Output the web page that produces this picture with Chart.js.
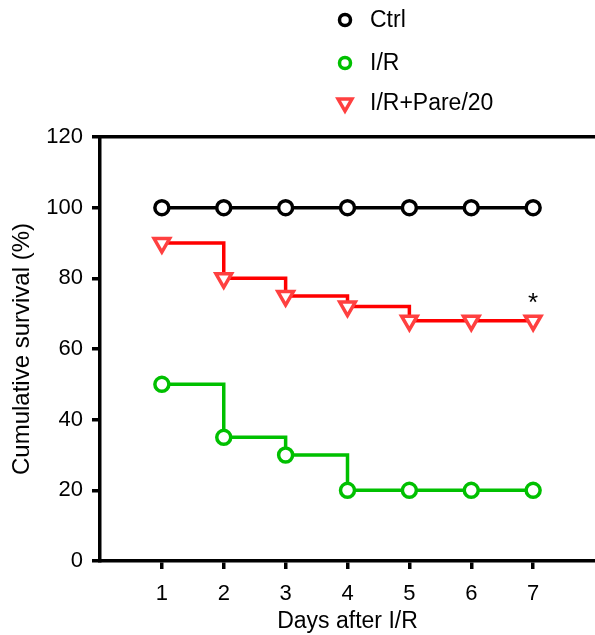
<!DOCTYPE html>
<html>
<head>
<meta charset="utf-8">
<script src="https://cdn.jsdelivr.net/npm/chart.js@4/dist/chart.umd.min.js"></script>
<style>
  html, body { margin: 0; padding: 0; background: #fff; }
  #wrap { width: 595px; height: 635px; position: relative; }
</style>
</head>
<body>
<div id="wrap"><canvas id="chart"></canvas></div>
<script>
const days = [1, 2, 3, 4, 5, 6, 7];
const ctrl = [100, 100, 100, 100, 100, 100, 100];
const ir = [50, 35, 30, 20, 20, 20, 20];
const irPare = [90, 80, 75, 72, 68, 68, 68];
const yTicks = [0, 20, 40, 60, 80, 100, 120];
const seriesNames = ['Ctrl', 'I/R', 'I/R+Pare/20'];

// significance mark above the last I/R+Pare/20 point
const markDays = [7];
const markValues = [74];
const markText = ['*'];

const FONT = '"Liberation Sans", Arial, Helvetica, sans-serif';
Chart.defaults.font.family = FONT;
Chart.defaults.color = '#000';

const toPoints = vals => days.map((d, i) => ({ x: d, y: vals[i] }));

const legendRows = [20, 63, 103];

const customLegend = {
  id: 'customLegend',
  afterDraw(chart) {
    const ctx = chart.ctx;
    ctx.save();
    chart.data.datasets.forEach((ds, i) => {
      const cx = 345, cy = legendRows[i];
      ctx.lineWidth = 3.5;
      ctx.strokeStyle = ds.pointBorderColor;
      ctx.fillStyle = '#fff';
      ctx.beginPath();
      if (ds.pointStyle === 'triangle') {
        const r = 8;
        ctx.moveTo(cx - r * 0.866, cy - r * 0.5);
        ctx.lineTo(cx + r * 0.866, cy - r * 0.5);
        ctx.lineTo(cx, cy + r);
        ctx.closePath();
      } else {
        ctx.arc(cx, cy, 5.5, 0, Math.PI * 2);
      }
      ctx.fill();
      ctx.stroke();
      ctx.fillStyle = '#000';
      ctx.font = '23px ' + FONT;
      ctx.textAlign = 'left';
      ctx.textBaseline = 'middle';
      ctx.fillText(ds.label, 370, cy + 1);
    });
    ctx.restore();
  }
};

const marks = {
  id: 'marks',
  afterDatasetsDraw(chart) {
    const { ctx, scales: { x, y } } = chart;
    ctx.save();
    ctx.fillStyle = '#000';
    ctx.font = '26px ' + FONT;
    ctx.textAlign = 'center';
    ctx.textBaseline = 'middle';
    markDays.forEach((d, i) => {
      ctx.fillText(markText[i], x.getPixelForValue(d), y.getPixelForValue(markValues[i]) + 4);
    });
    ctx.restore();
  }
};

const green = '#00c000';
const red = '#ff0000';

new Chart(document.getElementById('chart'), {
  type: 'line',
  data: {
    datasets: [
      {
        label: seriesNames[0], data: toPoints(ctrl), stepped: 'before',
        borderColor: '#000', borderWidth: 3.5,
        pointStyle: 'circle', pointRadius: 7, pointBorderWidth: 3.5,
        pointBackgroundColor: '#fff', pointBorderColor: '#000'
      },
      {
        label: seriesNames[1], data: toPoints(ir), stepped: 'before',
        borderColor: green, borderWidth: 3.5,
        pointStyle: 'circle', pointRadius: 7, pointBorderWidth: 3.5,
        pointBackgroundColor: '#fff', pointBorderColor: green
      },
      {
        label: seriesNames[2], data: toPoints(irPare), stepped: 'before',
        borderColor: red, borderWidth: 3.5,
        pointStyle: 'triangle', rotation: 180, pointRadius: 9, pointBorderWidth: 3.5,
        pointBackgroundColor: '#fff', pointBorderColor: '#ff4040'
      }
    ]
  },
  options: {
    responsive: true, maintainAspectRatio: false, animation: false,
    layout: { autoPadding: false, padding: { top: 136, right: -3, left: 0, bottom: 0 } },
    plugins: { legend: { display: false }, tooltip: { enabled: false } },
    scales: {
      x: {
        type: 'linear', min: 0, max: 8,
        afterBuildTicks: s => { s.ticks = days.map(v => ({ value: v })); },
        afterFit: s => { s.height = 74; },
        grid: { drawOnChartArea: false, drawTicks: true, tickLength: 8, color: '#000', lineWidth: 3.5 },
        border: { color: '#000', width: 3.5 },
        ticks: { font: { size: 22 }, color: '#000', padding: 12, maxRotation: 0 },
        title: { display: true, text: 'Days after I/R', font: { size: 23 }, color: '#000', padding: { top: 2, bottom: 0 } }
      },
      x2: {
        type: 'linear', position: 'top', min: 0, max: 8,
        grid: { display: false },
        border: { display: true, color: '#000', width: 3.5 },
        ticks: { display: false },
        afterFit: s => { s.height = 1; }
      },
      y: {
        min: 0, max: 120,
        afterBuildTicks: s => { s.ticks = yTicks.map(v => ({ value: v })); },
        afterFit: s => { s.width = 100; },
        grid: { drawOnChartArea: false, drawTicks: true, tickLength: 8, color: '#000', lineWidth: 3.5 },
        border: { color: '#000', width: 3.5 },
        ticks: { font: { size: 22 }, color: '#000', padding: 9 },
        title: { display: true, text: 'Cumulative survival (%)', font: { size: 24 }, color: '#000', padding: { top: 8, bottom: 0 } }
      }
    }
  },
  plugins: [customLegend, marks]
});
</script>
</body>
</html>
